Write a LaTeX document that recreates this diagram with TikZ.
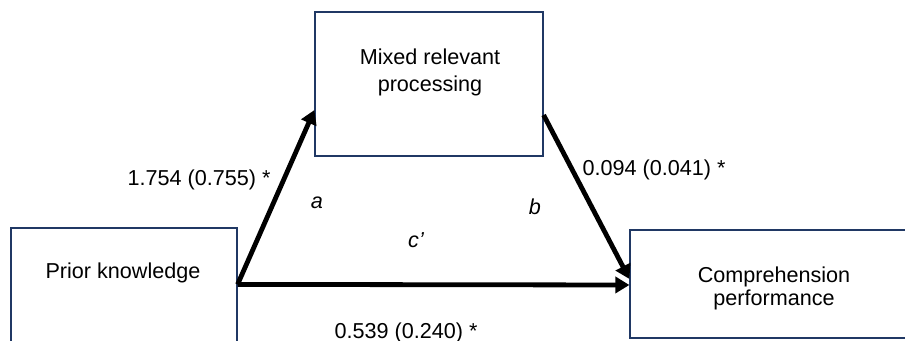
\documentclass[tikz,border=0pt]{standalone}
\usepackage{fontspec}
\setmainfont{Liberation Sans}
\usetikzlibrary{arrows.meta,positioning}
\definecolor{boxnavy}{RGB}{32,56,100}
\begin{document}
\begin{tikzpicture}[x=0.5pt,y=-0.5pt,
  varbox/.style={draw=boxnavy,line width=0.6pt,fill=white,inner sep=0pt},
  vartext/.style={align=center,inner sep=0pt,font=\fontsize{10.8}{13.5}\selectfont},
  coef/.style={inner sep=0pt,font=\fontsize{10.8}{13}\selectfont},
  pathname/.style={inner sep=0pt,font=\fontsize{10.8}{13}\selectfont\itshape},
  arr/.style={-{Triangle[length=7pt,width=8pt]},line width=2.4pt,draw=black}
]
\useasboundingbox (0,0) rectangle (905,341);
\clip (0,0) rectangle (905,341);
\node[varbox,minimum width=114pt,minimum height=72pt] (med) at (429,84) {};
\node[varbox,minimum width=113pt,minimum height=71pt] (prior) at (124,299) {};
\node[varbox,minimum width=144pt,minimum height=54pt] (comp) at (774,284) {};
\node[vartext] (medtext) at (430,72) {Mixed relevant\\processing};
\node[vartext] (priortext) at (123,273) {Prior knowledge};
\node[vartext,font=\fontsize{10.8}{11.5}\selectfont] (comptext) at (774,288)
  {Comprehension\\performance};
\coordinate (src) at ([yshift=-28.5pt]prior.north east);
\draw[arr] (src)--([yshift=-13pt]med.west);
\draw[arr] ([yshift=-15.5pt]med.east)--([yshift=2.5pt]comp.west);
\draw[arr] (src)--([yshift=-0.5pt]comp.west);
\node[coef] (acoef) at (199,180) {1.754 (0.755) *};
\node[coef] (bcoef) at (654,170) {0.094 (0.041) *};
\node[coef] (ccoef) at (406,333) {0.539 (0.240) *};
\node[pathname] (alab) at (317,203) {a};
\node[pathname] (blab) at (535,207) {b};
\node[pathname] (clab) at (416,240) {c’};
\end{tikzpicture}
\end{document}
